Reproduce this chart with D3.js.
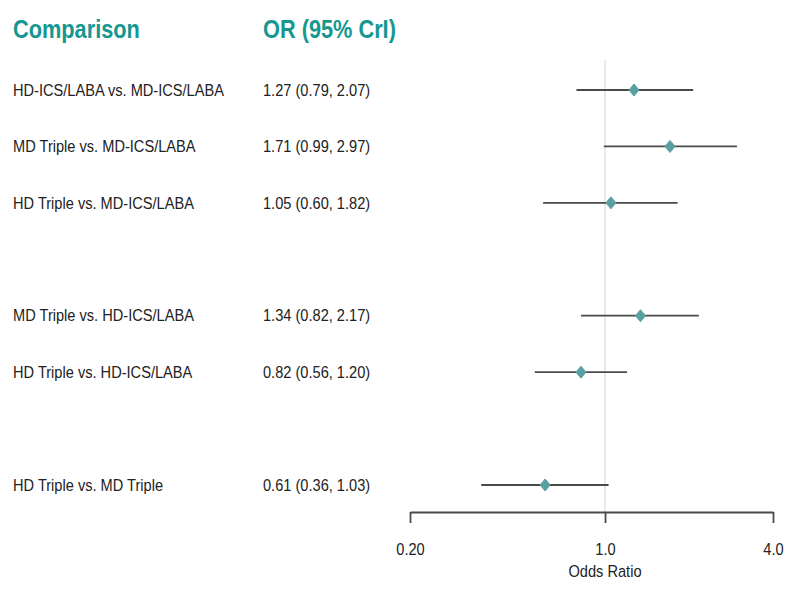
<!DOCTYPE html>
<html>
<head>
<meta charset="utf-8">
<script src="https://cdn.jsdelivr.net/npm/d3@7"></script>
<style>
  body { margin: 0; background: #fff; }
  text { font-family: "Liberation Sans", Arial, sans-serif; }
  .head { font-weight: bold; fill: #16978f; font-size: 25px; }
</style>
</head>
<body>
<script>
// comparisons and estimates
var comparisons = ["HD-ICS/LABA vs. MD-ICS/LABA", "MD Triple vs. MD-ICS/LABA", "HD Triple vs. MD-ICS/LABA",
                   "MD Triple vs. HD-ICS/LABA", "HD Triple vs. HD-ICS/LABA", "HD Triple vs. MD Triple"];
var rowSlot = [0, 1, 2, 4, 5, 7]; //blank slots split the groups
var orVals = [1.27, 1.71, 1.05, 1.34, 0.82, 0.61];
var lowVals = [0.79, 0.99, 0.60, 0.82, 0.56, 0.36];
var highVals = [2.07, 2.97, 1.82, 2.17, 1.20, 1.03];
var tickVals = [0.20, 1.0, 4.0];
var tickLabels = ["0.20", "1.0", "4.0"];

var width = 800, height = 600;
var narrow = 0.885; //squeeze text to mimic a condensed face

var svg = d3.select("body")
    .append("svg")
    .attr("width", width)
    .attr("height", height);

var x = d3.scaleLog()
    .domain([0.2, 4])
    .range([410, 773]);

var y = d3.scaleLinear()
    .domain([0, 7])
    .range([90, 485]);

var axisY = 512;

//headers
svg.append("text").attr("class", "head")
    .attr("transform", "translate(13,38) scale(0.87,1)").text("Comparison");
svg.append("text").attr("class", "head")
    .attr("transform", "translate(263,38) scale(0.87,1)").text("OR (95% CrI)");

//reference line at OR = 1
svg.append("line")
    .attr("x1", x(1)).attr("x2", x(1))
    .attr("y1", 60).attr("y2", axisY)
    .attr("stroke", "#d4d4d4")
    .attr("stroke-width", 1);

var rows = svg.selectAll(".row")
    .data(comparisons)
    .enter()
    .append("g")
    .attr("class", "row")
    .attr("transform", function(d, i){ return "translate(0," + y(rowSlot[i]) + ")"; });

rows.append("text")
    .attr("transform", "translate(13,0) scale(" + narrow + ",1)")
    .attr("dy", "0.35em")
    .attr("font-size", 16.5)
    .attr("fill", "#222")
    .text(function(d){ return d; });

rows.append("text")
    .attr("transform", "translate(263,0) scale(" + narrow + ",1)")
    .attr("dy", "0.35em")
    .attr("font-size", 16.5)
    .attr("fill", "#222")
    .text(function(d, i){
        return orVals[i].toFixed(2) + " (" + lowVals[i].toFixed(2) + ", " + highVals[i].toFixed(2) + ")";
    });

rows.append("line")
    .attr("x1", function(d, i){ return x(lowVals[i]); })
    .attr("x2", function(d, i){ return x(highVals[i]); })
    .attr("stroke", "#4a4a4a")
    .attr("stroke-width", 1.8);

rows.append("path")
    .attr("d", function(d, i){
        var cx = x(orVals[i]);
        return "M" + cx + ",-6L" + (cx + 5) + ",0L" + cx + ",6L" + (cx - 5) + ",0Z";
    })
    .attr("fill", "#5a9fa1")
    .attr("stroke", "#5a9fa1")
    .attr("stroke-width", 1)
    .attr("stroke-linejoin", "round");

//x axis
var axis = svg.append("g")
    .attr("transform", "translate(0," + axisY + ")")
    .call(d3.axisBottom(x)
        .tickValues(tickVals)
        .tickFormat(function(d, i){ return tickLabels[i]; })
        .tickSize(11)
        .tickPadding(20)
        .tickSizeOuter(0));

axis.select(".domain").attr("stroke", "#4a4a4a").attr("stroke-width", 1.8);
axis.selectAll(".tick line").attr("stroke", "#4a4a4a").attr("stroke-width", 1.8);
axis.selectAll(".tick text")
    .attr("font-size", 16.5)
    .attr("fill", "#222")
    .attr("transform", "scale(" + narrow + ",1)")
    .style("font-family", "'Liberation Sans', Arial, sans-serif");

svg.append("text")
    .attr("transform", "translate(" + x(1) + ",577) scale(" + narrow + ",1)")
    .attr("text-anchor", "middle")
    .attr("font-size", 16.5)
    .attr("fill", "#222")
    .text("Odds Ratio");
</script>
</body>
</html>
